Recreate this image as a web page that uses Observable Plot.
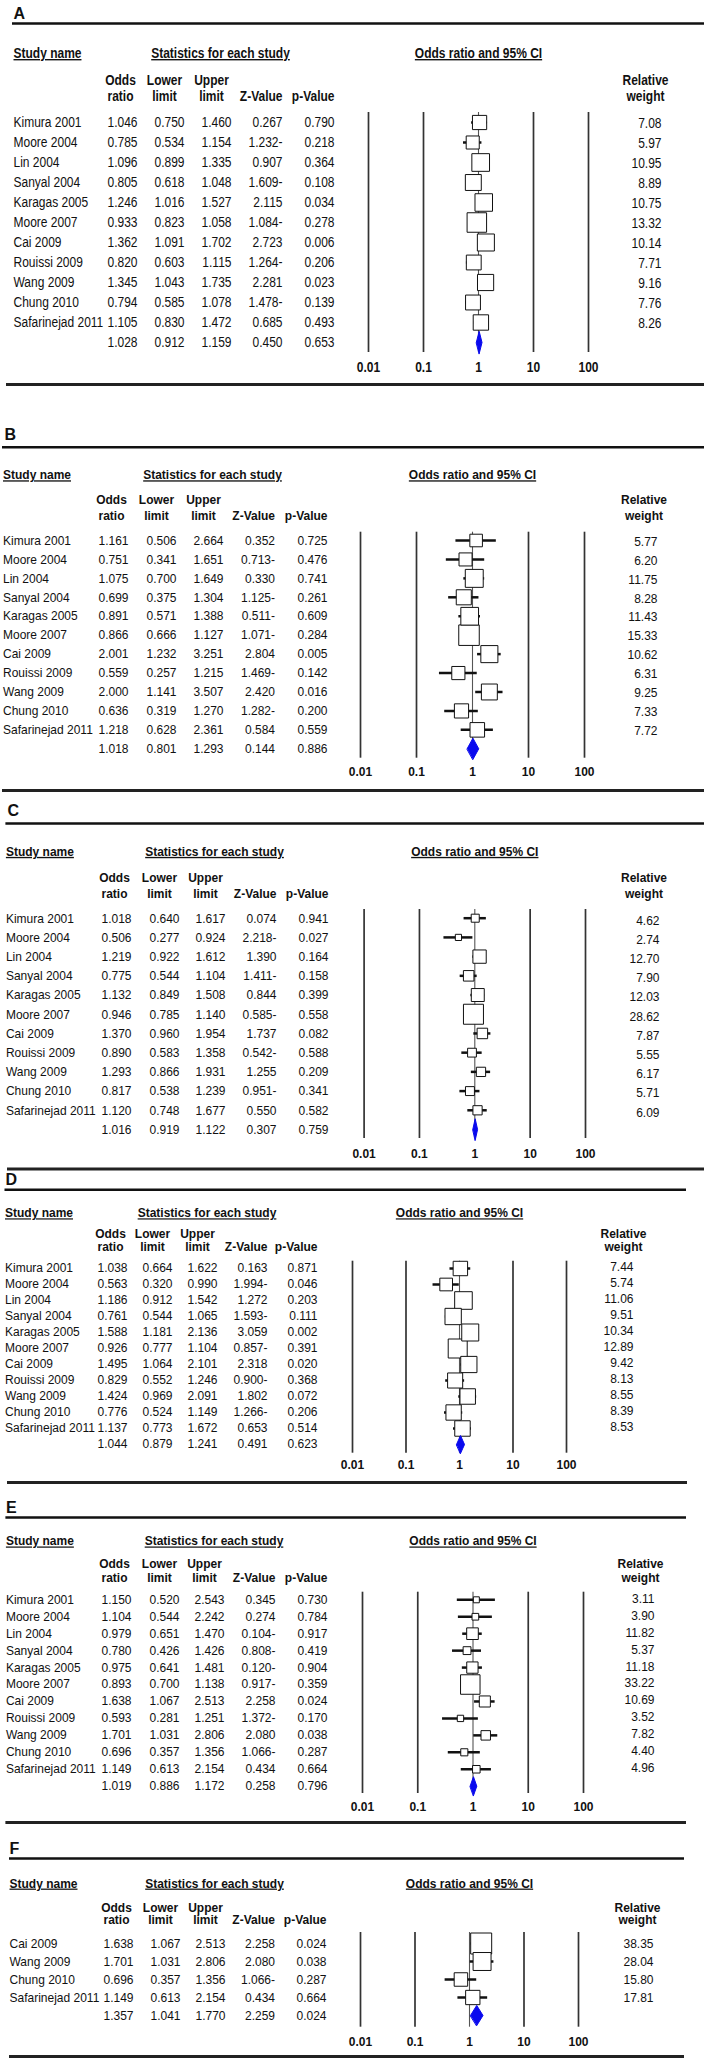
<!DOCTYPE html>
<html><head><meta charset="utf-8">
<script src="https://cdn.jsdelivr.net/npm/d3@7"></script>
<script src="https://cdn.jsdelivr.net/npm/@observablehq/plot@0.6"></script>
<style>
body{margin:0;background:#fff;}
#chart{width:704px;}
#chart svg{display:block;overflow:visible;}
</style></head><body><div id="chart"></div>
<script>
// ---------- data ----------
const tickValues = [0.01, 0.1, 1, 10, 100];
const tickLabels = ["0.01", "0.1", "1", "10", "100"];
const studies11 = ["Kimura 2001","Moore 2004","Lin 2004","Sanyal 2004","Karagas 2005","Moore 2007","Cai 2009","Rouissi 2009","Wang 2009","Chung 2010","Safarinejad 2011"];
const studiesF = ["Cai 2009","Wang 2009","Chung 2010","Safarinejad 2011"];

const orA = [1.046,0.785,1.096,0.805,1.246,0.933,1.362,0.820,1.345,0.794,1.105];
const llA = [0.750,0.534,0.899,0.618,1.016,0.823,1.091,0.603,1.043,0.585,0.830];
const ulA = [1.460,1.154,1.335,1.048,1.527,1.058,1.702,1.115,1.735,1.078,1.472];
const zA  = [0.267,-1.232,0.907,-1.609,2.115,-1.084,2.723,-1.264,2.281,-1.478,0.685];
const pA  = [0.790,0.218,0.364,0.108,0.034,0.278,0.006,0.206,0.023,0.139,0.493];
const wA  = [7.08,5.97,10.95,8.89,10.75,13.32,10.14,7.71,9.16,7.76,8.26];
const sumA = [1.028,0.912,1.159,0.450,0.653];

const orB = [1.161,0.751,1.075,0.699,0.891,0.866,2.001,0.559,2.000,0.636,1.218];
const llB = [0.506,0.341,0.700,0.375,0.571,0.666,1.232,0.257,1.141,0.319,0.628];
const ulB = [2.664,1.651,1.649,1.304,1.388,1.127,3.251,1.215,3.507,1.270,2.361];
const zB  = [0.352,-0.713,0.330,-1.125,-0.511,-1.071,2.804,-1.469,2.420,-1.282,0.584];
const pB  = [0.725,0.476,0.741,0.261,0.609,0.284,0.005,0.142,0.016,0.200,0.559];
const wB  = [5.77,6.20,11.75,8.28,11.43,15.33,10.62,6.31,9.25,7.33,7.72];
const sumB = [1.018,0.801,1.293,0.144,0.886];

const orC = [1.018,0.506,1.219,0.775,1.132,0.946,1.370,0.890,1.293,0.817,1.120];
const llC = [0.640,0.277,0.922,0.544,0.849,0.785,0.960,0.583,0.866,0.538,0.748];
const ulC = [1.617,0.924,1.612,1.104,1.508,1.140,1.954,1.358,1.931,1.239,1.677];
const zC  = [0.074,-2.218,1.390,-1.411,0.844,-0.585,1.737,-0.542,1.255,-0.951,0.550];
const pC  = [0.941,0.027,0.164,0.158,0.399,0.558,0.082,0.588,0.209,0.341,0.582];
const wC  = [4.62,2.74,12.70,7.90,12.03,28.62,7.87,5.55,6.17,5.71,6.09];
const sumC = [1.016,0.919,1.122,0.307,0.759];

const orD = [1.038,0.563,1.186,0.761,1.588,0.926,1.495,0.829,1.424,0.776,1.137];
const llD = [0.664,0.320,0.912,0.544,1.181,0.777,1.064,0.552,0.969,0.524,0.773];
const ulD = [1.622,0.990,1.542,1.065,2.136,1.104,2.101,1.246,2.091,1.149,1.672];
const zD  = [0.163,-1.994,1.272,-1.593,3.059,-0.857,2.318,-0.900,1.802,-1.266,0.653];
const pD  = [0.871,0.046,0.203,0.111,0.002,0.391,0.020,0.368,0.072,0.206,0.514];
const wD  = [7.44,5.74,11.06,9.51,10.34,12.89,9.42,8.13,8.55,8.39,8.53];
const sumD = [1.044,0.879,1.241,0.491,0.623];

const orE = [1.150,1.104,0.979,0.780,0.975,0.893,1.638,0.593,1.701,0.696,1.149];
const llE = [0.520,0.544,0.651,0.426,0.641,0.700,1.067,0.281,1.031,0.357,0.613];
const ulE = [2.543,2.242,1.470,1.426,1.481,1.138,2.513,1.251,2.806,1.356,2.154];
const zE  = [0.345,0.274,-0.104,-0.808,-0.120,-0.917,2.258,-1.372,2.080,-1.066,0.434];
const pE  = [0.730,0.784,0.917,0.419,0.904,0.359,0.024,0.170,0.038,0.287,0.664];
const wE  = [3.11,3.90,11.82,5.37,11.18,33.22,10.69,3.52,7.82,4.40,4.96];
const sumE = [1.019,0.886,1.172,0.258,0.796];

const orF = [1.638,1.701,0.696,1.149];
const llF = [1.067,1.031,0.357,0.613];
const ulF = [2.513,2.806,1.356,2.154];
const zF  = [2.258,2.080,-1.066,0.434];
const pF  = [0.024,0.038,0.287,0.664];
const wF  = [38.35,28.04,15.80,17.81];
const sumF = [1.357,1.041,1.770,2.259,0.024];

// ---------- layout (page pixel positions) ----------
const panels = [
 {label:"A", names:studies11, or:orA, ll:llA, ul:ulA, z:zA, p:pA, w:wA, sum:sumA,
  top:0, bottom:398, labelX:13, labelY:13.5, ruleTop:23, rx1:12, rx2:704, ruleBottom:384, bx1:6, bx2:704,
  hdr1:53, hdr2:80, hdr3:96, row0:122, sumY:342, vTop:112, vBot:352, axisY:367,
  colName:13, colOR:137, colLL:184, colUL:231, colZ:282, colP:334, colW:661, relHdr:645, relDy:1,
  x001:368, x100:588, maxSide:19.5, stretch:1.15},
 {label:"B", names:studies11, or:orB, ll:llB, ul:ulB, z:zB, p:pB, w:wB, sum:sumB,
  top:398, bottom:798, labelX:4, labelY:434, ruleTop:446.7, rx1:2, rx2:704, ruleBottom:790, bx1:2, bx2:704,
  hdr1:474.5, hdr2:499, hdr3:515, row0:540, sumY:748.3, vTop:531.7, vBot:757.7, axisY:771,
  colName:2.5, colOR:128, colLL:176, colUL:223, colZ:274.5, colP:327, colW:657, relHdr:643.5, relDy:1,
  x001:360, x100:584, maxSide:20.5, stretch:1.1},
 {label:"C", names:studies11, or:orC, ll:llC, ul:ulC, z:zC, p:pC, w:wC, sum:sumC,
  top:798, bottom:1170, labelX:7, labelY:810, ruleTop:823, rx1:5.4, rx2:704, ruleBottom:1168.5, bx1:7, bx2:704,
  hdr1:851, hdr2:876.7, hdr3:892.7, row0:917.7, sumY:1129, vTop:909, vBot:1138, axisY:1153,
  colName:5.4, colOR:131, colLL:179, colUL:225, colZ:276, colP:328, colW:659, relHdr:643.5, relDy:2,
  x001:363.6, x100:585, maxSide:20, stretch:1.12},
 {label:"D", names:studies11, or:orD, ll:llD, ul:ulD, z:zD, p:pD, w:wD, sum:sumD,
  top:1170, bottom:1492, labelX:5, labelY:1179.8, ruleTop:1189.3, rx1:4.5, rx2:686, ruleBottom:1482, bx1:7, bx2:687,
  hdr1:1213, hdr2:1234, hdr3:1247, row0:1268, sumY:1444, vTop:1260.7, vBot:1452.7, axisY:1465,
  colName:4.5, colOR:127, colLL:172, colUL:217, colZ:267, colP:317, colW:633, relHdr:623, relDy:-1.5,
  x001:352, x100:566, maxSide:19, stretch:1.0},
 {label:"E", names:studies11, or:orE, ll:llE, ul:ulE, z:zE, p:pE, w:wE, sum:sumE,
  top:1492, bottom:1832, labelX:5.4, labelY:1507, ruleTop:1517, rx1:5.4, rx2:686, ruleBottom:1822, bx1:5.4, bx2:686,
  hdr1:1541, hdr2:1563.7, hdr3:1577.7, row0:1599.3, sumY:1785.7, vTop:1591.7, vBot:1793, axisY:1807,
  colName:5.4, colOR:131, colLL:179, colUL:224, colZ:275, colP:327, colW:654, relHdr:640, relDy:-1,
  x001:362, x100:583, maxSide:19.5, stretch:1.03},
 {label:"F", names:studiesF, or:orF, ll:llF, ul:ulF, z:zF, p:pF, w:wF, sum:sumF,
  top:1832, bottom:2059, labelX:9, labelY:1848, ruleTop:1858, rx1:9, rx2:684, ruleBottom:2056, bx1:9, bx2:684,
  hdr1:1883, hdr2:1907.7, hdr3:1919, row0:1943, sumY:2015, vTop:1932, vBot:2026.7, axisY:2041,
  colName:9, colOR:133, colLL:180, colUL:225, colZ:274.5, colP:326, colW:653, relHdr:637, relDy:0,
  x001:360, x100:578, maxSide:21, stretch:1.05}
];

const FONT = "'Liberation Sans', Arial, Helvetica, sans-serif";
const UNDER = new Set(["Study name", "Statistics for each study", "Odds ratio and 95% CI"]);
const f3 = d3.format(".3f");
const f2 = d3.format(".2f");
const fz = v => f3(Math.abs(v)) + (v < 0 ? "-" : "");

function build(s) {
  const n = s.names.length;
  const step = (s.sumY - s.row0) / n;
  const Y = py => (py - s.row0) / step;
  const H = s.bottom - s.top;
  const rows = s.names.map((name, i) => ({i, name, or: s.or[i], lo: s.ll[i], hi: s.ul[i], z: s.z[i], p: s.p[i], w: s.w[i]}));
  const sum = {i: n, name: "", or: s.sum[0], lo: s.sum[1], hi: s.sum[2], z: s.sum[3], p: s.sum[4]};
  const table = rows.concat([sum]);
  const dh = 0.56;
  const diamond = [
    {x: sum.lo, y: n}, {x: sum.or, y: n - dh}, {x: sum.hi, y: n}, {x: sum.or, y: n + dh}
  ];
  const base = {fontSize: 12, frameAnchor: "left", fill: "#111"};
  const col = (data, text, dx, anchor, extra = {}) =>
    Plot.text(data, {...base, y: "i", text, dx, textAnchor: anchor, ...extra});
  const hdr = (py, t, dx, anchor) =>
    Plot.text([{y: Y(py), t}], {...base, y: "y", text: "t", dx, textAnchor: anchor, fontWeight: "bold"});
  const statsCenter = (s.colOR - 31 + s.colP) / 2;

  const plot = Plot.plot({
    width: 704, height: H, margin: 0,
    x: {type: "log", domain: [0.01, 100], range: [s.x001, s.x100], axis: null},
    y: {type: "linear", domain: [0, n], range: [s.row0 - s.top, s.sumY - s.top], axis: null},
    r: {type: "sqrt", domain: [0, d3.max(s.w)], range: [0, s.maxSide / Math.sqrt(Math.PI)]},
    style: {fontFamily: FONT, fontSize: "12px", color: "#111", background: "#fff", overflow: "visible"},
    marks: [
      Plot.ruleY([Y(s.ruleTop)], {stroke: "#111", strokeWidth: 2.5, insetLeft: s.rx1, insetRight: 704 - s.rx2}),
      Plot.ruleY([Y(s.ruleBottom)], {stroke: "#222", strokeWidth: 3, insetLeft: s.bx1, insetRight: 704 - s.bx2}),
      Plot.ruleX(tickValues.filter(d => d !== 1), {x: d => d, y1: () => Y(s.vTop), y2: () => Y(s.vBot), stroke: "#333", strokeWidth: 1.7}),
      Plot.ruleX([1], {x: d => d, y1: () => Y(s.vTop), y2: () => Y(s.vBot), stroke: "#555", strokeWidth: 1.1}),
      Plot.ruleY(rows, {y: "i", x1: "lo", x2: "hi", stroke: "#111", strokeWidth: 2.5}),
      Plot.dot(rows, {x: "or", y: "i", r: "w", symbol: "square", fill: "#fff", stroke: "#111", strokeWidth: 1}),
      Plot.line(diamond, {x: "x", y: "y", curve: "linear-closed", fill: "#0a0aee", stroke: "#0a0aee", strokeWidth: 1}),
      // panel label
      Plot.text([s.label], {...base, y: () => Y(s.labelY), text: d => d, dx: s.labelX, textAnchor: "start", fontSize: 16, fontWeight: "bold"}),
      // headers
      hdr(s.hdr1, "Study name", s.colName, "start"),
      hdr(s.hdr1, "Statistics for each study", statsCenter, "middle"),
      Plot.text([1], {x: d => d, y: () => Y(s.hdr1), text: () => "Odds ratio and 95% CI", fontSize: 12, fontWeight: "bold", textAnchor: "middle", fill: "#111"}),
      hdr(s.hdr2, "Odds", s.colOR - 17, "middle"),
      hdr(s.hdr3, "ratio", s.colOR - 17, "middle"),
      hdr(s.hdr2, "Lower", s.colLL - 20, "middle"),
      hdr(s.hdr3, "limit", s.colLL - 20, "middle"),
      hdr(s.hdr2, "Upper", s.colUL - 20, "middle"),
      hdr(s.hdr3, "limit", s.colUL - 20, "middle"),
      hdr(s.hdr3, "Z-Value", s.colZ, "end"),
      hdr(s.hdr3, "p-Value", s.colP, "end"),
      hdr(s.hdr2, "Relative", s.relHdr, "middle"),
      hdr(s.hdr3, "weight", s.relHdr, "middle"),
      // table body
      col(rows, "name", s.colName, "start"),
      col(table, d => f3(d.or), s.colOR, "end"),
      col(table, d => f3(d.lo), s.colLL, "end"),
      col(table, d => f3(d.hi), s.colUL, "end"),
      col(table, d => fz(d.z), s.colZ, "end"),
      col(table, d => f3(d.p), s.colP, "end"),
      col(rows, d => f2(d.w), s.colW, "end", {dy: s.relDy}),
      // axis labels
      Plot.text(tickValues, {x: d => d, y: () => Y(s.axisY), text: (d, i) => tickLabels[i], fontSize: 12, fontWeight: "bold", textAnchor: "middle", fill: "#111"})
    ]
  });
  d3.select(plot).selectAll("text")
    .filter(function() { return UNDER.has(this.textContent); })
    .style("text-decoration", "underline");
  return plot;
}

// the reference glyphs are slightly taller than wide: stretch text vertically about its centre
function stretchText(svg, k, label) {
  if (k === 1) return;
  d3.select(svg).selectAll("text").each(function() {
    if (this.textContent === label) return;
    const bb = this.getBBox();
    const cy = bb.y + bb.height / 2;
    const t = this.getAttribute("transform") || "";
    this.setAttribute("transform", `${t} translate(0,${cy}) scale(1,${k}) translate(0,${-cy})`);
  });
}

const host = document.getElementById("chart");
for (const s of panels) {
  const svg = build(s);
  host.appendChild(svg);
  stretchText(svg, s.stretch, s.label);
}
</script>
</body></html>
